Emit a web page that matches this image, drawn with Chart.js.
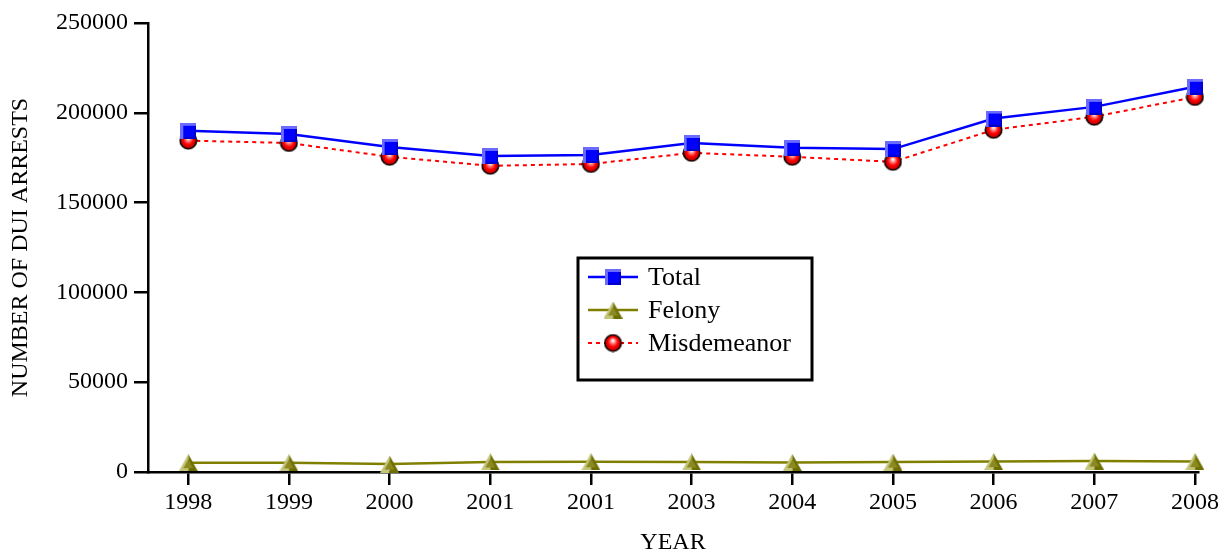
<!DOCTYPE html>
<html>
<head>
<meta charset="utf-8">
<script src="https://cdn.jsdelivr.net/npm/chart.js@4"></script>
<style>
  html, body { margin: 0; padding: 0; background: #fff; }
  #wrap { width: 1222px; height: 557px; }
</style>
</head>
<body>
<div id="wrap"><canvas id="duiChart" width="1222" height="557"></canvas></div>
<script>
// values
const years = ['1998', '1999', '2000', '2001', '2001', '2003', '2004', '2005', '2006', '2007', '2008'];
const totalArrests = [190000, 188200, 181000, 176000, 176500, 183200, 180500, 179800, 196800, 203300, 214500];
const felonyArrests = [5200, 5100, 4400, 5600, 5700, 5600, 5300, 5500, 5800, 6100, 5800];
const misdemeanorArrests = [184500, 183200, 175500, 170500, 171500, 177700, 175500, 172700, 190500, 197800, 208800];
const yTicks = [0, 50000, 100000, 150000, 200000, 250000];

const FONT = "'Liberation Serif', 'Times New Roman', serif";

// little shaded marker images
const makeSquare = () => {
    const c = document.createElement('canvas');
    c.width = 16; c.height = 16;
    const g = c.getContext('2d');
    g.fillStyle = '#6b6bff';
    g.fillRect(0, 0, 16, 16);
    g.fillStyle = '#0000c8';
    g.fillRect(3, 3, 13, 13);
    g.fillStyle = '#0000ff';
    g.fillRect(3, 3, 11, 11);
    return c;
};

const makeBall = () => {
    const c = document.createElement('canvas');
    c.width = 19; c.height = 19;
    const g = c.getContext('2d');
    const grad = g.createRadialGradient(9.5, 7, 0.5, 9.5, 9.5, 8.5);
    grad.addColorStop(0, '#ffffff');
    grad.addColorStop(0.25, '#ff8080');
    grad.addColorStop(0.55, '#ff0000');
    grad.addColorStop(1, '#b00000');
    g.beginPath();
    g.arc(9.5, 9.5, 8.2, 0, Math.PI * 2);
    g.fillStyle = grad;
    g.fill();
    g.lineWidth = 1.6;
    g.strokeStyle = '#000';
    g.stroke();
    return c;
};

const makeTriangle = () => {
    const c = document.createElement('canvas');
    c.width = 19; c.height = 17;
    const g = c.getContext('2d');
    g.beginPath();
    g.moveTo(9.5, 0); g.lineTo(0, 17); g.lineTo(9.5, 17); g.closePath();
    g.fillStyle = '#c4c47a';
    g.fill();
    g.beginPath();
    g.moveTo(9.5, 0); g.lineTo(19, 17); g.lineTo(9.5, 17); g.closePath();
    g.fillStyle = '#6e6e00';
    g.fill();
    g.beginPath();
    g.moveTo(9.5, 5); g.lineTo(4.5, 14); g.lineTo(14.5, 14); g.closePath();
    g.fillStyle = '#8a8a20';
    g.fill();
    return c;
};

const squareImg = makeSquare();
const ballImg = makeBall();
const triangleImg = makeTriangle();

const toPoints = values => values.map((v, i) => ({ x: i, y: v }));

const datasets = [
    {
        label: 'Total',
        data: toPoints(totalArrests),
        borderColor: '#0000ff',
        borderWidth: 2.5,
        pointStyle: squareImg,
        marker: squareImg,
        clip: false
    },
    {
        label: 'Felony',
        data: toPoints(felonyArrests),
        borderColor: '#808000',
        borderWidth: 2.5,
        pointStyle: triangleImg,
        marker: triangleImg,
        clip: false
    },
    {
        label: 'Misdemeanor',
        data: toPoints(misdemeanorArrests),
        borderColor: '#ff0000',
        borderWidth: 2,
        borderDash: [4, 4],
        pointStyle: ballImg,
        marker: ballImg,
        clip: false
    }
];

// boxed legend in the middle of the plot
const boxLegend = {
    id: 'boxLegend',
    afterDraw(chart) {
        const ctx = chart.ctx;
        const x0 = 578, y0 = 258, w = 234, h = 122;
        ctx.save();
        ctx.lineWidth = 3;
        ctx.strokeStyle = '#000';
        ctx.strokeRect(x0, y0, w, h);
        chart.data.datasets.forEach((ds, i) => {
            const cy = y0 + 19 + i * 33;
            ctx.beginPath();
            ctx.setLineDash(ds.borderDash || []);
            ctx.lineWidth = ds.borderWidth;
            ctx.strokeStyle = ds.borderColor;
            ctx.moveTo(x0 + 10, cy);
            ctx.lineTo(x0 + 60, cy);
            ctx.stroke();
            ctx.setLineDash([]);
            const img = ds.marker;
            ctx.drawImage(img, x0 + 35 - img.width / 2, cy - img.height / 2);
            ctx.fillStyle = '#000';
            ctx.font = '26px ' + FONT;
            ctx.textBaseline = 'middle';
            ctx.fillText(ds.label, x0 + 70, cy + 1);
        });
        ctx.restore();
    }
};

new Chart(document.getElementById('duiChart'), {
    type: 'line',
    data: { datasets: datasets },
    plugins: [boxLegend],
    options: {
        responsive: false,
        animation: false,
        layout: { padding: { top: 23, right: 23, left: 0, bottom: 0 } },
        elements: {
            line: { tension: 0, fill: false },
            point: { radius: 8 }
        },
        plugins: {
            legend: { display: false },
            tooltip: { enabled: false }
        },
        scales: {
            x: {
                type: 'linear',
                min: -0.4,
                max: 10.03,
                afterBuildTicks: scale => { scale.ticks = years.map((_, i) => ({ value: i })); },
                afterFit: scale => { scale.height = 85; },
                ticks: {
                    autoSkip: false,
                    maxRotation: 0,
                    padding: 3,
                    color: '#000',
                    font: { family: FONT, size: 24 },
                    callback: value => years[value]
                },
                grid: { drawOnChartArea: false, drawTicks: true, tickLength: 13, color: '#000', lineWidth: 2.5 },
                border: { display: true, color: '#000', width: 2.5 },
                title: {
                    display: true,
                    text: 'YEAR',
                    color: '#000',
                    font: { family: FONT, size: 24 },
                    padding: { top: 0, bottom: 0 }
                }
            },
            y: {
                min: 0,
                max: 250000,
                afterBuildTicks: scale => { scale.ticks = yTicks.map(v => ({ value: v })); },
                afterFit: scale => { scale.width = 148; },
                ticks: {
                    padding: 6,
                    color: '#000',
                    font: { family: FONT, size: 24 },
                    callback: value => String(value)
                },
                grid: { drawOnChartArea: false, drawTicks: true, tickLength: 14, color: '#000', lineWidth: 2.5 },
                border: { display: true, color: '#000', width: 2.5 },
                title: {
                    display: true,
                    text: 'NUMBER OF DUI ARRESTS',
                    color: '#000',
                    font: { family: FONT, size: 24 },
                    padding: { top: 6, bottom: 0 }
                }
            }
        }
    }
});
</script>
</body>
</html>
